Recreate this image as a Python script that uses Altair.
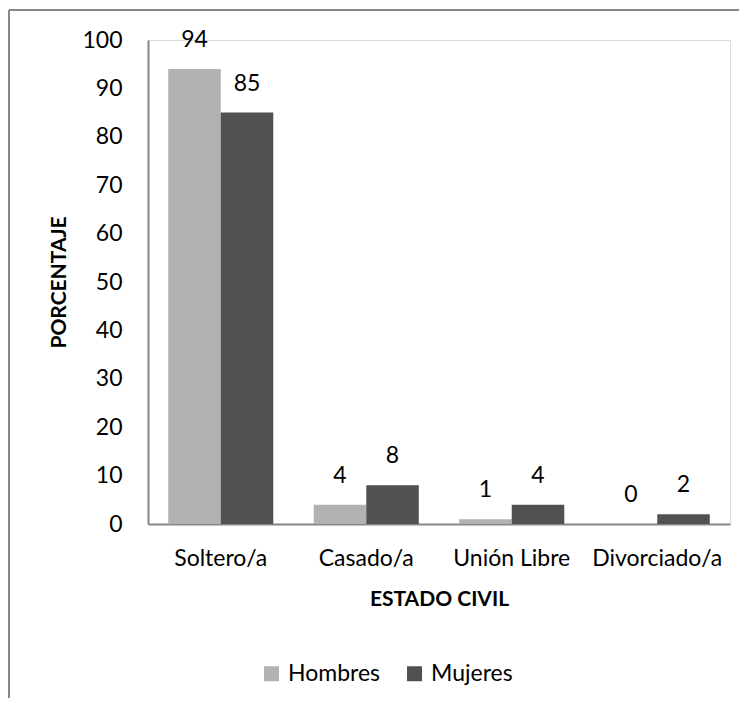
import altair as alt
import pandas as pd

categories = ["Soltero/a", "Casado/a", "Unión Libre", "Divorciado/a"]
hombres = [94, 4, 1, 0]
mujeres = [85, 8, 4, 2]
series = ["Hombres", "Mujeres"]
colors = ["#b2b2b2", "#515151"]
y_ticks = list(range(0, 101, 10))

rows = []
for c, h, m in zip(categories, hombres, mujeres):
    rows.append({"estado": c, "sexo": "Hombres", "valor": h})
    rows.append({"estado": c, "sexo": "Mujeres", "valor": m})
df = pd.DataFrame(rows)

FONT = "Lato"
AX = "#868686"
LS = 23
TS = 21

x_enc = alt.X("estado:N", sort=categories,
              scale=alt.Scale(paddingInner=0.278, paddingOuter=0.139),
              axis=alt.Axis(title="ESTADO CIVIL", labelAngle=0, ticks=False,
                            domainColor=AX, domainWidth=2, labelFontSize=LS,
                            labelPadding=23, labelColor="#000", titleFontSize=TS,
                            titleFontWeight="bold", titlePadding=18, titleColor="#000",
                            labelFont=FONT, titleFont=FONT))
xo_enc = alt.XOffset("sexo:N", sort=series, scale=alt.Scale(paddingInner=0, paddingOuter=0))
y_enc = alt.Y("valor:Q", scale=alt.Scale(domain=[0, 100]),
              axis=alt.Axis(title="PORCENTAJE", values=y_ticks, ticks=False, grid=False,
                            domainColor=AX, domainWidth=2, labelFontSize=LS,
                            labelPadding=26, labelColor="#000", titleFontSize=TS,
                            titleFontWeight="bold", titlePadding=12, titleColor="#000",
                            labelFont=FONT, titleFont=FONT))

bars = alt.Chart(df).mark_bar().encode(
    x=x_enc, xOffset=xo_enc, y=y_enc,
    color=alt.Color("sexo:N", sort=series,
                    scale=alt.Scale(domain=series, range=colors),
                    legend=alt.Legend(title=None, orient="none", direction="horizontal",
                                      legendX=112, legendY=622, symbolType="square",
                                      symbolSize=225, symbolStrokeWidth=0,
                                      labelFontSize=LS, labelFont=FONT, labelColor="#000",
                                      columnPadding=22, labelOffset=5)),
)

labels = alt.Chart(df).mark_text(baseline="bottom", dy=-17, fontSize=LS, font=FONT,
                                 color="#000").encode(
    x=alt.X("estado:N", sort=categories), xOffset=alt.XOffset("sexo:N", sort=series),
    y="valor:Q", text="valor:Q")

border_left = alt.Chart(df).mark_rule(color=AX, strokeWidth=2).encode(
    x=alt.value(-139), y=alt.value(-30), y2=alt.value(670))
border_top = alt.Chart(df).mark_rule(color=AX, strokeWidth=2).encode(
    x=alt.value(-139), x2=alt.value(600), y=alt.value(-30))

chart = alt.layer(bars, labels, border_left, border_top).properties(
    width=582, height=484,
    autosize=alt.AutoSizeParams(type="none"),
    padding={"left": 140, "top": 32, "right": 9, "bottom": 174},
).configure_view(stroke=None).configure(font=FONT)

chart.save("out.html", embed_options={"renderer": "svg", "actions": False})
